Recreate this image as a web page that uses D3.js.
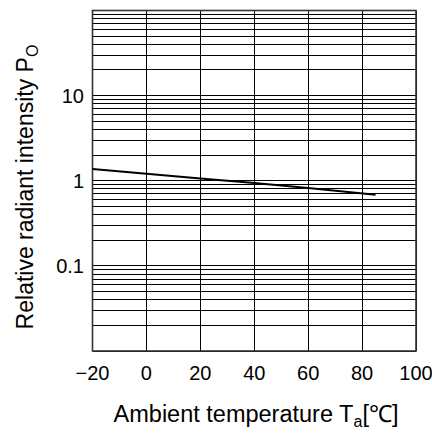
<!DOCTYPE html>
<html>
<head>
<meta charset="utf-8">
<script src="https://cdn.jsdelivr.net/npm/d3@7"></script>
<style>
  html, body { margin: 0; padding: 0; background: #fff; }
  svg { display: block; }
  text { font-family: "Liberation Sans", Arial, sans-serif; fill: #000; }
</style>
</head>
<body>
<svg id="chart" width="432" height="433"></svg>
<script>
// Data
const temperature = [-20, 0, 20, 40, 60, 85];
const intensity = [1.37, 1.21, 1.06, 0.94, 0.82, 0.685];
const xTicks = [-20, 0, 20, 40, 60, 80, 100];
const yTickLabels = [10, 1, 0.1];
const xDomain = [-20, 100];
const yDomain = [0.01, 100];

(function () {
const svg = d3.select("#chart");
const pLeft = 92.5, pRight = 416, pTop = 10.5, pBottom = 351;

const x = d3.scaleLinear().domain(xDomain).range([pLeft, pRight]);
const y = d3.scaleLog().domain(yDomain).range([pBottom, pTop]);

// minor/major log grid lines
const gridVals = [];
for (let e = -2; e < 2; e++) {
  for (let m = 1; m <= 9; m++) gridVals.push(m * Math.pow(10, e));
}
gridVals.push(100);

const g = svg.append("g");
g.selectAll("line.h").data(gridVals).enter().append("line")
  .attr("x1", pLeft).attr("x2", pRight)
  .attr("y1", d => y(d)).attr("y2", d => y(d))
  .attr("stroke", "#000").attr("stroke-width", 1)
  .attr("shape-rendering", "crispEdges");

g.selectAll("line.v").data(xTicks).enter().append("line")
  .attr("x1", d => x(d)).attr("x2", d => x(d))
  .attr("y1", pTop).attr("y2", pBottom)
  .attr("stroke", "#000").attr("stroke-width", 1)
  .attr("shape-rendering", "crispEdges");

// frame
svg.append("rect")
  .attr("x", pLeft).attr("y", pTop)
  .attr("width", pRight - pLeft).attr("height", pBottom - pTop)
  .attr("fill", "none").attr("stroke", "#333").attr("stroke-width", 1.6);

// data line
const line = d3.line().x((d, i) => x(temperature[i])).y(d => y(d));
svg.append("path")
  .datum(intensity)
  .attr("d", line)
  .attr("fill", "none").attr("stroke", "#000").attr("stroke-width", 2);

// x tick labels
svg.selectAll("text.xt").data(xTicks).enter().append("text")
  .attr("x", d => x(d)).attr("y", 380)
  .attr("text-anchor", "middle")
  .style("font-size", "20px")
  .text(d => d < 0 ? "\u2212" + Math.abs(d) : d);

// y tick labels
svg.selectAll("text.yt").data(yTickLabels).enter().append("text")
  .attr("x", 84).attr("y", d => y(d) + 7)
  .attr("text-anchor", "end")
  .style("font-size", "20px")
  .text(d => d);

// x title
const xt = svg.append("text")
  .attr("x", 256).attr("y", 422)
  .attr("text-anchor", "middle")
  .style("font-size", "23.5px");
xt.append("tspan").text("Ambient temperature T");
xt.append("tspan").attr("dy", 5).style("font-size", "16px").text("a");
xt.append("tspan").attr("dy", -5).text("[\u2103]");

// y title
const yt = svg.append("text")
  .attr("transform", "translate(33,187) rotate(-90)")
  .attr("text-anchor", "middle")
  .style("font-size", "23px");
yt.append("tspan").text("Relative radiant intensity P");
yt.append("tspan").attr("dy", 5).style("font-size", "16px").text("O");
})();
</script>
</body>
</html>
